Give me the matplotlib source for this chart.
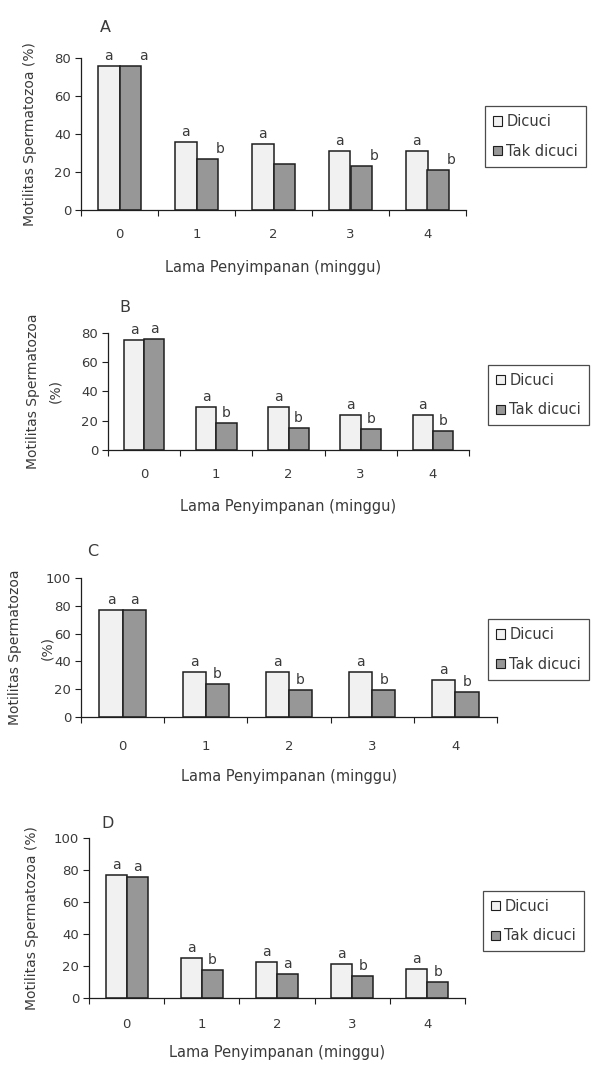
import matplotlib
matplotlib.use("Agg")
import matplotlib.pyplot as plt
from matplotlib.patches import Patch
import numpy as np

plt.rcParams['font.family'] = ['DejaVu Sans']

weeks = ["0", "1", "2", "3", "4"]
series_names = ["Dicuci", "Tak dicuci"]
panel_names = ["A", "B", "C", "D"]

A_dicuci = [76, 36, 35, 31, 31]
A_tak = [76, 27, 24, 23, 21]
B_dicuci = [75, 29.5, 29.5, 24, 24]
B_tak = [75.5, 18.5, 15, 14.5, 13]
C_dicuci = [77, 32.5, 32, 32, 26.5]
C_tak = [77, 23.5, 19.5, 19, 17.5]
D_dicuci = [77, 25.5, 22.5, 21.5, 18.5]
D_tak = [76, 17.5, 15.5, 14, 10.5]

A_dicuci_letters = ["a", "a", "a", "a", "a"]
A_tak_letters = ["a", "b", "", "b", "b"]
B_dicuci_letters = ["a", "a", "a", "a", "a"]
B_tak_letters = ["a", "b", "b", "b", "b"]
C_dicuci_letters = ["a", "a", "a", "a", "a"]
C_tak_letters = ["a", "b", "b", "b", "b"]
D_dicuci_letters = ["a", "a", "a", "a", "a"]
D_tak_letters = ["a", "b", "a", "b", "b"]

A_yticks = [0, 20, 40, 60, 80]
B_yticks = [0, 20, 40, 60, 80]
C_yticks = [0, 20, 40, 60, 80, 100]
D_yticks = [0, 20, 40, 60, 80, 100]

xlabel = "Lama Penyimpanan (minggu)"

W, H = 592, 1067
fig = plt.figure(figsize=(W / 100, H / 100), dpi=100)

TXT = "#3a3a3a"
LIGHT = "#f1f1f1"
DARK = "#979797"
EDGE = "#1e1e1e"

def fx(px):
    return px / W

def fy(py):
    return 1 - py / H

# layout (pixels): left, right, top, bottom
layouts = {
    "A": dict(box=(81, 466, 58, 210), ylab=("Motilitas Spermatozoa (%)",), ylab_x=(30,),
              title=(105, 27), tick_y=235, xlab_y=267, legend=(485, 106, 583, 167),
              tak_dx=0.17, top=80),
    "B": dict(box=(108, 469, 332.7, 450), ylab=("Motilitas Spermatozoa", "(%)"), ylab_x=(33, 55),
              title=(125, 308), tick_y=475, xlab_y=507, legend=(488, 365, 592, 425),
              tak_dx=0.0, top=80),
    "C": dict(box=(81, 497, 578.3, 716.7), ylab=("Motilitas Spermatozoa", "(%)"), ylab_x=(15, 47),
              title=(93, 552), tick_y=747, xlab_y=777, legend=(488, 620, 592, 679),
              tak_dx=0.0, top=100),
    "D": dict(box=(89, 465, 838.3, 998.3), ylab=("Motilitas Spermatozoa (%)",), ylab_x=(32,),
              title=(108, 823), tick_y=1025, xlab_y=1053, legend=(483, 892, 588, 950),
              tak_dx=0.0, top=100),
}

data = {
    "A": (A_dicuci, A_tak, A_dicuci_letters, A_tak_letters, A_yticks),
    "B": (B_dicuci, B_tak, B_dicuci_letters, B_tak_letters, B_yticks),
    "C": (C_dicuci, C_tak, C_dicuci_letters, C_tak_letters, C_yticks),
    "D": (D_dicuci, D_tak, D_dicuci_letters, D_tak_letters, D_yticks),
}

bw = 0.28
x = np.arange(len(weeks))
FS_TICK = 9.5
FS_LAB = 10
FS_LEG = 10.5

for name in panel_names:
    L = layouts[name]
    dic, tak, dl, tl, yt = data[name]
    left, right, top, bottom = L["box"]
    ax = fig.add_axes([fx(left), fy(bottom), fx(right - left), (bottom - top) / H])
    ax.bar(x - bw / 2, dic, bw, color=LIGHT, edgecolor=EDGE, linewidth=1.1)
    ax.bar(x + bw / 2, tak, bw, color=DARK, edgecolor=EDGE, linewidth=1.1)
    ax.set_xlim(-0.5, len(weeks) - 0.5)
    ax.set_ylim(0, L["top"])
    ax.set_yticks(yt)
    ax.set_yticklabels([str(v) for v in yt], fontsize=FS_TICK, color=TXT)
    ax.set_xticks(np.arange(len(weeks) + 1) - 0.5)
    ax.set_xticklabels([])
    ax.set_xticks(x, minor=True)
    ax.set_xticklabels(weeks, minor=True, fontsize=FS_TICK, color=TXT)
    ax.tick_params(axis="x", which="minor", length=0)
    ax.tick_params(axis="x", which="major", length=4, direction="out", color=EDGE, width=0.8)
    ax.tick_params(axis="y", length=4, direction="out", color=EDGE, width=0.8, pad=3)
    ax_h_px = bottom - top
    pad_px = L["tick_y"] - bottom - 7
    ax.tick_params(axis="x", which="minor", pad=pad_px * 72 / 100)
    for s in ["top", "right"]:
        ax.spines[s].set_visible(False)
    for s in ["left", "bottom"]:
        ax.spines[s].set_color(EDGE)
        ax.spines[s].set_linewidth(0.9)
    unit = L["top"] / ax_h_px  # data per pixel
    for xi, v, lab in zip(x, dic, dl):
        if lab:
            ax.text(xi - bw / 2, v + 3 * unit, lab, ha="center", va="bottom",
                    fontsize=10, color=TXT)
    for xi, v, lab in zip(x, tak, tl):
        if lab:
            ax.text(xi + bw / 2 + L["tak_dx"], v + 3 * unit, lab, ha="center", va="bottom",
                    fontsize=10, color=TXT)
    fig.text(fx(L["title"][0]), fy(L["title"][1]), name, ha="center", va="center",
             fontsize=11.5, color=TXT)
    for lab, lx in zip(L["ylab"], L["ylab_x"]):
        fig.text(fx(lx), fy((top + bottom) / 2), lab, rotation=90, ha="center", va="center",
                 fontsize=FS_LAB, color=TXT)
    fig.text(fx((left + right) / 2), fy(L["xlab_y"]), xlabel, ha="center", va="center",
             fontsize=10.5, color=TXT)
    lx0, ly0, lx1, ly1 = L["legend"]
    handles = [Patch(facecolor=LIGHT, edgecolor=EDGE, linewidth=0.8),
               Patch(facecolor=DARK, edgecolor=EDGE, linewidth=0.8)]
    leg = fig.legend(handles, series_names, loc="center left",
                     bbox_to_anchor=(fx(lx0), fy((ly0 + ly1) / 2)),
                     fontsize=FS_LEG, frameon=True, fancybox=False, handlelength=0.6,
                     handleheight=0.6, handletextpad=0.3, borderpad=0.55, labelspacing=1.0,
                     borderaxespad=0)
    leg.get_frame().set_edgecolor(EDGE)
    leg.get_frame().set_linewidth(0.9)
    for t in leg.get_texts():
        t.set_color(TXT)

fig.savefig("out.png", dpi=100, facecolor="white")
